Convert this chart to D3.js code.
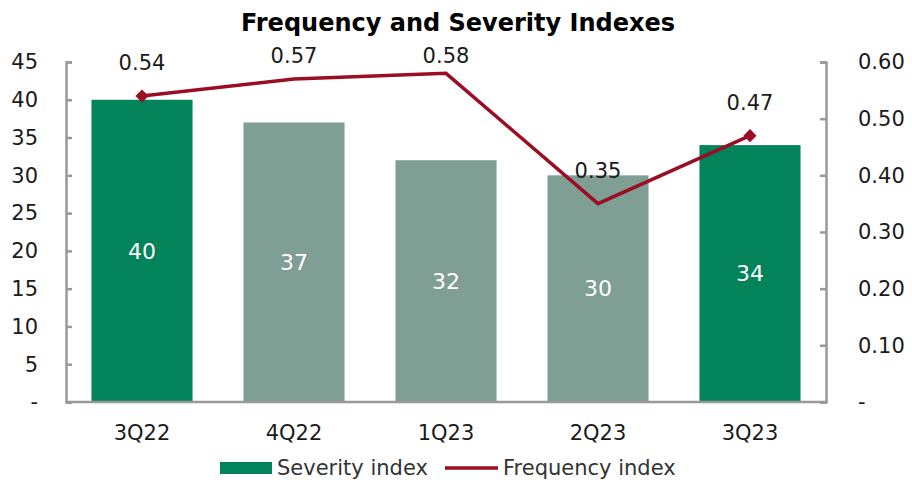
<!DOCTYPE html>
<html>
<head>
<meta charset="utf-8">
<script src="https://cdn.jsdelivr.net/npm/d3@7"></script>
<style>
  body { margin: 0; background: #fff; }
  text { font-family: "DejaVu Sans", sans-serif; fill: #1a1a1a; }
</style>
</head>
<body>
<div id="chart"></div>
<script>
// data
let quarters = ["3Q22", "4Q22", "1Q23", "2Q23", "3Q23"];
let severity = [40, 37, 32, 30, 34];
let frequency = [0.54, 0.57, 0.58, 0.35, 0.47];
let highlight = [true, false, false, false, true];
let leftTicks = [0, 5, 10, 15, 20, 25, 30, 35, 40, 45];
let rightTicks = [0, 0.1, 0.2, 0.3, 0.4, 0.5, 0.6];

let W = 912, H = 480;
let margin = { top: 62, right: 86, bottom: 78, left: 66 },
    width = W - margin.left - margin.right,
    height = H - margin.top - margin.bottom;

let svg = d3.select("#chart").append("svg")
    .attr("width", W)
    .attr("height", H);

svg.append("text")
    .attr("x", 458)
    .attr("y", 31)
    .style("text-anchor", "middle")
    .style("font-weight", "bold")
    .style("font-size", "24px")
    .style("fill", "#000")
    .text("Frequency and Severity Indexes");

let g = svg.append("g")
    .attr("transform", "translate(" + margin.left + "," + margin.top + ")");

let x = d3.scaleBand()
    .domain(quarters)
    .range([0, width])
    .paddingInner(0.335)
    .paddingOuter(0.1675);
let y = d3.scaleLinear().domain([0, 45]).range([height, 0]);
let y2 = d3.scaleLinear().domain([0, 0.6]).range([height, 0]);

// bars
g.selectAll(".bar")
    .data(severity)
    .enter()
    .append("rect")
    .attr("x", (d, i) => x(quarters[i]))
    .attr("width", x.bandwidth())
    .attr("y", d => y(d))
    .attr("height", d => height - y(d))
    .attr("fill", (d, i) => highlight[i] ? "#028359" : "#7f9e94");

g.selectAll(".barlabel")
    .data(severity)
    .enter()
    .append("text")
    .attr("x", (d, i) => x(quarters[i]) + x.bandwidth() / 2)
    .attr("y", d => (y(d) + height) / 2)
    .attr("dy", "0.35em")
    .style("text-anchor", "middle")
    .style("font-size", "22px")
    .style("fill", "#fff")
    .text(d => d);

// axes
let axisColor = "#999";
let left = g.append("g")
    .call(d3.axisRight(y).tickValues(leftTicks).tickSize(6).tickFormat(""));
left.append("path").attr("d", "M0," + height + "H" + (width / 2));
let right = g.append("g")
    .attr("transform", "translate(" + width + ",0)")
    .call(d3.axisLeft(y2).tickValues(rightTicks).tickSize(6).tickFormat(""));
right.append("path").attr("d", "M0," + height + "H" + (-width / 2));
g.selectAll(".domain, .tick line, g > path")
    .attr("stroke", axisColor)
    .attr("stroke-width", 2.5)
    .attr("fill", "none");

g.selectAll(".ltick")
    .data(leftTicks)
    .enter()
    .append("text")
    .attr("x", -28)
    .attr("y", d => y(d))
    .attr("dy", "0.35em")
    .style("text-anchor", "end")
    .style("font-size", "21px")
    .text(d => d === 0 ? "-" : d);

g.selectAll(".rtick")
    .data(rightTicks)
    .enter()
    .append("text")
    .attr("x", width + 32)
    .attr("y", d => y2(d))
    .attr("dy", "0.35em")
    .style("text-anchor", "start")
    .style("font-size", "21px")
    .text(d => d === 0 ? "-" : d.toFixed(2));

g.selectAll(".xlabel")
    .data(quarters)
    .enter()
    .append("text")
    .attr("x", d => x(d) + x.bandwidth() / 2)
    .attr("y", height + 31)
    .attr("dy", "0.35em")
    .style("text-anchor", "middle")
    .style("font-size", "21px")
    .text(d => d);

// frequency line
let line = d3.line()
    .x((d, i) => x(quarters[i]) + x.bandwidth() / 2)
    .y(d => y2(d));
g.append("path")
    .datum(frequency)
    .attr("d", line)
    .attr("fill", "none")
    .attr("stroke", "#9b0d23")
    .attr("stroke-width", 3.5);

let ends = [0, frequency.length - 1];
g.selectAll(".marker")
    .data(ends)
    .enter()
    .append("path")
    .attr("d", d3.symbol(d3.symbolDiamond2, 110))
    .attr("transform", i => "translate(" + (x(quarters[i]) + x.bandwidth() / 2) + "," + y2(frequency[i]) + ")")
    .attr("fill", "#9b0d23");

g.selectAll(".flabel")
    .data(frequency)
    .enter()
    .append("text")
    .attr("x", (d, i) => x(quarters[i]) + x.bandwidth() / 2)
    .attr("y", d => Math.max(y2(d) - 33, -6))
    .attr("dy", "0.35em")
    .style("text-anchor", "middle")
    .style("font-size", "21px")
    .text(d => d.toFixed(2));

// legend
let legend = svg.append("g").attr("transform", "translate(0," + 468 + ")");
legend.append("rect")
    .attr("x", 220).attr("y", -6)
    .attr("width", 52).attr("height", 12)
    .attr("fill", "#028359");
legend.append("text")
    .attr("x", 277).attr("y", 0).attr("dy", "0.35em")
    .style("font-size", "21px")
    .style("fill", "#333")
    .text("Severity index");
legend.append("line")
    .attr("x1", 445).attr("x2", 498)
    .attr("y1", 0).attr("y2", 0)
    .attr("stroke", "#9b0d23")
    .attr("stroke-width", 3.5);
legend.append("text")
    .attr("x", 503).attr("y", 0).attr("dy", "0.35em")
    .style("font-size", "21px")
    .style("fill", "#333")
    .text("Frequency index");
</script>
</body>
</html>
